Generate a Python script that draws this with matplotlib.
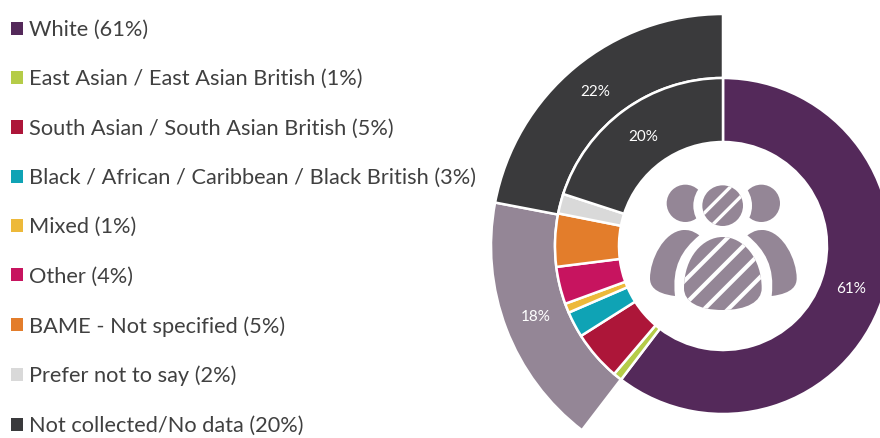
import numpy as np
import matplotlib
matplotlib.use("Agg")
import matplotlib.pyplot as plt
from matplotlib.patches import Circle, PathPatch, Rectangle
from matplotlib.path import Path

categories = ["White (61%)", "East Asian / East Asian British (1%)",
              "South Asian / South Asian British (5%)",
              "Black / African / Caribbean / Black British (3%)", "Mixed (1%)",
              "Other (4%)", "BAME - Not specified (5%)", "Prefer not to say (2%)",
              "Not collected/No data (20%)"]
inner_values = [60.4, 0.85, 4.8, 2.5, 0.9, 3.6, 5.1, 1.9, 20.0]
inner_colors = ["#54295A", "#B5CC48", "#AD1639", "#0FA3B5", "#EDB93A",
                "#C7145F", "#E37D2B", "#D9D9D9", "#3A3A3C"]
inner_labels = ["61%", "", "", "", "", "", "", "", "20%"]
outer_values = [60.4, 17.6, 22.0]
outer_colors = ["none", "#948696", "#3A3A3C"]
outer_labels = ["", "18%", "22%"]

FONT = "Lato"
TEXT = "#404040"
ICON = "#948696"
CX, CY = 723, -246
R_OUT, R_MID, R_HOLE = 232, 168, 104

fig = plt.figure(figsize=(8.8, 4.38), dpi=100)
ax = fig.add_axes([0, 0, 1, 1])
ax.set_xlim(0, 880)
ax.set_ylim(-438, 0)
ax.set_aspect("equal")

edge = dict(edgecolor="white", linewidth=1.8)
outer, _ = ax.pie(outer_values, colors=outer_colors, startangle=90, counterclock=False,
                  radius=R_OUT, center=(CX, CY), frame=True,
                  wedgeprops=dict(width=R_OUT - R_MID, **edge))
outer[0].set_edgecolor("none")
inner, _ = ax.pie(inner_values, colors=inner_colors, startangle=90, counterclock=False,
                  radius=R_MID, center=(CX, CY), frame=True,
                  wedgeprops=dict(width=R_MID - R_HOLE, **edge))
ax.set_xlim(0, 880)
ax.set_ylim(-438, 0)
ax.axis("off")


def ring_labels(values, labels, r):
    total = sum(values)
    cum = 0
    for v, lab in zip(values, labels):
        mid = (cum + v / 2) / total * 2 * np.pi
        cum += v
        if lab:
            ax.text(CX + r * np.sin(mid), CY + r * np.cos(mid), lab, color="white",
                    ha="center", va="center", family=FONT, fontsize=11)


ring_labels(inner_values, inner_labels, 135)
ring_labels(outer_values, outer_labels, 200)


# Centre icon: coordinates given in icon space (3x px from x=620, y=160)
def P(x, y):
    return 620 + x / 3, -(160 + y / 3)


def bez(points, codes):
    return Path([P(*p) for p in points], codes)


C4, M, Z = Path.CURVE4, Path.MOVETO, Path.CLOSEPOLY


def side_head(x):
    ax.add_patch(Circle(P(x, 130), 56 / 3, fc=ICON, ec="none", zorder=3))


side_head(196)
side_head(424)
ax.add_patch(Circle(P(308, 137), 88 / 3, fc="white", ec="none", zorder=4))
head = Circle(P(308, 137), 61 / 3, fc=ICON, ec="none", zorder=5)
ax.add_patch(head)


def shoulder(mirror):
    f = (lambda x: 620 - x) if mirror else (lambda x: x)
    pts = [(238, 226), (215, 210), (205, 210), (190, 210),
           (130, 215), (90, 300), (90, 355),
           (90, 375), (100, 400), (165, 408),
           (155, 320), (185, 270), (238, 226), (238, 226)]
    codes = [M] + [C4] * 12 + [Z]
    ax.add_patch(PathPatch(bez([(f(x), y) for x, y in pts], codes), fc=ICON, ec="none", zorder=3))


shoulder(False)
shoulder(True)
body_pts = [(192, 385), (192, 290), (250, 231), (308, 231), (370, 231), (425, 295), (425, 385),
            (425, 425), (380, 450), (308, 450), (235, 450), (192, 425), (192, 385), (192, 385)]
body_codes = [M] + [C4] * 12 + [Z]
body = PathPatch(bez(body_pts, body_codes), fc=ICON, ec="none", zorder=5)
ax.add_patch(body)


def stripes(clip, sums, width):
    for c in sums:
        a, b = P(c - 500, 500), P(c + 500, -500)
        line, = ax.plot([a[0], b[0]], [a[1], b[1]], color="white", lw=width, zorder=6,
                        solid_capstyle="butt")
        line.set_clip_path(clip)


stripes(head, [412, 472], 2.4)
stripes(body, [556, 628, 700, 772], 3.0)

# Legend
handles = [Rectangle((0, 0), 1, 1, fc=c, ec="none") for c in inner_colors]
leg = ax.legend(handles, categories, loc="upper left", bbox_to_anchor=(11 / 880, 1 - 20 / 438),
                bbox_transform=fig.transFigure, frameon=False, borderpad=0, borderaxespad=0,
                handlelength=0.55, handleheight=0.55, handletextpad=0.28,
                labelspacing=1.345, labelcolor=TEXT,
                prop=dict(family=FONT, size=15.7))

fig.savefig("out.png", dpi=100)
